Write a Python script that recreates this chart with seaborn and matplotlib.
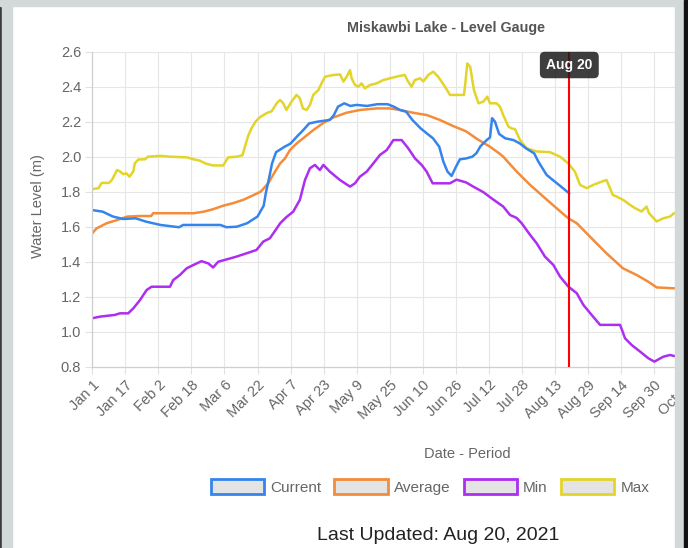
import numpy as np
import matplotlib.pyplot as plt
import seaborn as sns
import pandas as pd
from matplotlib.patches import Patch, Rectangle
from matplotlib.ticker import FormatStrFormatter

# x axis = day of year (Jan 1 = 0), one label every 16 days
tick_days = list(range(0, 289, 16))
tick_labels = ["Jan 1", "Jan 17", "Feb 2", "Feb 18", "Mar 6", "Mar 22", "Apr 7",
               "Apr 23", "May 9", "May 25", "Jun 10", "Jun 26", "Jul 12", "Jul 28",
               "Aug 13", "Aug 29", "Sep 14", "Sep 30", "Oct 16"]
y_ticks = [0.8, 1.0, 1.2, 1.4, 1.6, 1.8, 2.0, 2.2, 2.4, 2.6]

# (day, level) points
current_pts = [(0, 1.695), (5, 1.686), (10, 1.658), (15, 1.644), (21, 1.648), (26, 1.629),
               (33, 1.61), (42, 1.597), (44, 1.61), (49, 1.61), (62, 1.61), (65, 1.597),
               (70, 1.6), (75, 1.62), (80, 1.658), (83, 1.72), (84, 1.79), (86, 1.9),
               (87, 1.96), (89, 2.026), (93, 2.056), (96, 2.075), (99, 2.114), (102, 2.15),
               (105, 2.19), (109, 2.2), (115, 2.21), (117, 2.238), (119, 2.286), (122, 2.305),
               (125, 2.29), (128, 2.296), (133, 2.29), (138, 2.3), (143, 2.3), (146, 2.286),
               (149, 2.267), (152, 2.257), (155, 2.21), (159, 2.162), (162, 2.133), (165, 2.105),
               (168, 2.057), (170, 1.972), (172, 1.915), (174, 1.89), (176, 1.94), (178, 1.985),
               (181, 1.99), (184, 2.0), (186, 2.02), (188, 2.06), (191, 2.095), (192.6, 2.11),
               (193.6, 2.22), (195, 2.2), (197, 2.13), (200, 2.105), (204, 2.095), (207, 2.076),
               (210, 2.048), (214, 2.019), (216, 1.972), (218, 1.934), (220, 1.896), (223, 1.867),
               (227, 1.829), (231, 1.79)]

average_pts = [(0, 1.562), (2, 1.59), (7, 1.62), (12, 1.638), (17, 1.658), (23, 1.661),
               (28.5, 1.661), (29.5, 1.677), (49, 1.677), (54, 1.686), (58.5, 1.7), (63.4, 1.72),
               (68, 1.734), (73, 1.753), (78, 1.78), (81.5, 1.8), (85.2, 1.848), (88.5, 1.915),
               (91, 1.962), (93.3, 1.99), (95.7, 2.038), (99, 2.076), (103, 2.114), (107, 2.152),
               (112, 2.194), (116.7, 2.224), (123, 2.251), (129.6, 2.267), (137.7, 2.276),
               (144, 2.276), (149, 2.267), (155.4, 2.251), (162, 2.238), (168.3, 2.21),
               (174.8, 2.175), (181, 2.145), (186.5, 2.1), (192.6, 2.057), (197.5, 2.015),
               (199, 2.0), (205.5, 1.915), (212, 1.839), (218.4, 1.772), (224.8, 1.706),
               (230.5, 1.648), (234.6, 1.62), (241, 1.543), (249, 1.448), (257, 1.362),
               (263.6, 1.324), (269.2, 1.286), (273.3, 1.253), (281.7, 1.248), (290, 1.248)]

min_pts = [(0, 1.077), (3.7, 1.086), (11, 1.096), (13.4, 1.105), (17.4, 1.105), (19.9, 1.134),
           (23.1, 1.181), (26.3, 1.238), (28.7, 1.257), (37.6, 1.257), (39.2, 1.295), (42.4, 1.324),
           (45.7, 1.362), (48.9, 1.381), (52.9, 1.403), (56.2, 1.39), (58.5, 1.367), (61, 1.4),
           (65, 1.413), (69.8, 1.429), (74.7, 1.448), (79.5, 1.467), (82.8, 1.515), (86, 1.534),
           (89.3, 1.59), (91, 1.62), (94, 1.655), (97.3, 1.686), (100.5, 1.753), (103, 1.867),
           (105.4, 1.934), (107.8, 1.953), (110.2, 1.924), (111.9, 1.953), (115, 1.915),
           (119.9, 1.867), (124.8, 1.829), (127.2, 1.848), (129.6, 1.886), (132.9, 1.915),
           (136.1, 1.962), (139.3, 2.01), (142.6, 2.038), (145.8, 2.095), (149.8, 2.095),
           (153, 2.048), (156.3, 1.99), (159.5, 1.953), (161.9, 1.915), (164.8, 1.848),
           (173.2, 1.848), (176.4, 1.869), (181, 1.853), (184.5, 1.829), (189.4, 1.797),
           (194.2, 1.755), (199, 1.715), (202.3, 1.667), (205.5, 1.65), (207.9, 1.62),
           (211.9, 1.555), (215.2, 1.505), (219.2, 1.429), (223.3, 1.381), (226.5, 1.315),
           (230.5, 1.258), (234.6, 1.22), (237.8, 1.153), (241.8, 1.096), (245.9, 1.039),
           (255.6, 1.039), (258, 0.962), (261.2, 0.924), (265.3, 0.886), (269.3, 0.848),
           (272.2, 0.829), (276.5, 0.857), (279.8, 0.867), (281.7, 0.861), (290, 0.87)]

max_pts = [(0, 1.815), (3, 1.82), (4.5, 1.85), (8, 1.85), (9.5, 1.867), (12, 1.924),
           (13.5, 1.915), (15, 1.9), (16.5, 1.905), (18, 1.886), (19.8, 1.915), (20.6, 1.962),
           (22.3, 1.984), (25.5, 1.985), (27, 2.0), (33, 2.005), (38, 2.0), (46, 1.996),
           (49, 1.985), (52, 1.978), (55, 1.96), (58.5, 1.95), (63.4, 1.95), (65.8, 1.996),
           (70, 2.0), (72.7, 2.008), (75.5, 2.12), (77, 2.16), (79, 2.2), (81.2, 2.226),
           (84.4, 2.249), (86.9, 2.26), (89.3, 2.305), (90.9, 2.324), (92.5, 2.305), (94, 2.267),
           (96.5, 2.315), (98.9, 2.353), (100.5, 2.334), (102, 2.276), (103.8, 2.267),
           (105.4, 2.296), (107, 2.353), (109.5, 2.381), (111, 2.419), (112.7, 2.457),
           (116.7, 2.467), (120, 2.47), (121.6, 2.429), (123.2, 2.457), (124.8, 2.495),
           (125.6, 2.448), (127.2, 2.41), (128.8, 2.4), (130.4, 2.419), (132, 2.39),
           (134.5, 2.41), (137.7, 2.419), (140.9, 2.438), (144.2, 2.448), (148.2, 2.46),
           (151.3, 2.467), (152.9, 2.43), (154.6, 2.4), (156.2, 2.438), (158.7, 2.448),
           (160.3, 2.43), (162.7, 2.467), (165.1, 2.486), (167.5, 2.457), (170.8, 2.4),
           (173.2, 2.353), (180, 2.353), (180.8, 2.438), (181.6, 2.533), (183, 2.514),
           (184.8, 2.381), (187, 2.305), (189.4, 2.315), (191.3, 2.343), (192.6, 2.305),
           (195.8, 2.305), (197.4, 2.286), (199, 2.238), (201.5, 2.172), (203, 2.162),
           (204.7, 2.157), (207.1, 2.096), (210.3, 2.048), (215.2, 2.03), (221.6, 2.026),
           (226.5, 2.0), (230.5, 1.962), (233.7, 1.915), (236.2, 1.839), (239.4, 1.82),
           (242.6, 1.839), (246.8, 1.858), (249, 1.867), (250.7, 1.82), (252, 1.782),
           (253.9, 1.772), (257.1, 1.753), (260.4, 1.725), (262.8, 1.706), (266, 1.687),
           (268.4, 1.715), (269.6, 1.677), (273.3, 1.63), (276.5, 1.648), (279.8, 1.658),
           (281.7, 1.677), (290, 1.69)]

series_names = ["Current", "Average", "Min", "Max"]
series_pts = [current_pts, average_pts, min_pts, max_pts]
colors = ["#3584ee", "#f48c3a", "#ad2ef0", "#e3d42a"]
update_day = 231  # Aug 20

frames = []
for name, pts in zip(series_names, series_pts):
    d = pd.DataFrame(pts, columns=["Day", "Level"])
    d["Series"] = name
    frames.append(d)
df = pd.concat(frames, ignore_index=True)

sns.set_style('whitegrid')
plt.rcParams['font.family'] = ['Liberation Sans', 'DejaVu Sans']

W, H = 688, 548
x0, y_top, y_bot = 92.3, 51.7, 366.7
px_day = 2.065
x_max = 290

fig = plt.figure(figsize=(W / 100, H / 100), dpi=100)
ax = fig.add_axes([x0 / W, 1 - y_bot / H, x_max * px_day / W, (y_bot - y_top) / H])

# draw in reverse so Current sits on top, like the original
for name, c in reversed(list(zip(series_names, colors))):
    sns.lineplot(data=df[df["Series"] == name], x="Day", y="Level", color=c,
                 linewidth=1.8, estimator=None, sort=False, ax=ax)

ax.axvline(update_day, color="#ff0000", linewidth=1.5, zorder=4)
ax.text(update_day, 2.524, "Aug 20", ha="center", va="center", color="white",
        fontsize=10, fontweight="bold", zorder=6, clip_on=False,
        bbox=dict(boxstyle="round,pad=0.45,rounding_size=0.35", fc="#1c1c1c", ec="none", alpha=0.85))

ax.set_xlim(0, x_max)
ax.set_ylim(0.8, 2.6)
ax.set_xticks(tick_days)
ax.set_xticklabels(tick_labels, rotation=45, ha="right", rotation_mode="anchor")
ax.set_yticks(y_ticks)
ax.yaxis.set_major_formatter(FormatStrFormatter("%.1f"))
ax.grid(color="#e6e6e6", linewidth=0.8)
ax.tick_params(axis="both", bottom=True, left=True, length=5, width=0.8, color="#e0e0e0",
               labelcolor="#666666", labelsize=10.5, pad=3)
for s in ["top", "right"]:
    ax.spines[s].set_visible(False)
for s in ["left", "bottom"]:
    ax.spines[s].set_color("#cfcfcf")
    ax.spines[s].set_linewidth(0.9)

ax_w = x_max * px_day
ax.set_xlabel("Date - Period", fontsize=10.5, color="#666666")
ax.xaxis.set_label_coords((467 - x0) / ax_w, -(447 - y_bot) / (y_bot - y_top))
ax.set_ylabel("Water Level (m)", fontsize=10.5, color="#666666")
ax.yaxis.set_label_coords((38 - x0) / ax_w, (y_bot - 206) / (y_bot - y_top))
ax.yaxis.label.set_va("center")

fig.text(446 / W, 1 - 28 / H, "Miskawbi Lake - Level Gauge", ha="center", va="center",
         fontsize=10.3, fontweight="bold", color="#555555")

handles = [Patch(facecolor="#e4e4e4", edgecolor=c, linewidth=2) for c in colors]
fig.legend(handles, series_names, loc="center", bbox_to_anchor=(430 / W, 1 - 487 / H),
           ncol=4, frameon=False, handlelength=3.5, handleheight=1.05, handletextpad=0.4,
           columnspacing=0.85, fontsize=11, labelcolor="#666666")

fig.text(438 / W, 1 - 535 / H, "Last Updated: Aug 20, 2021", ha="center", va="center",
         fontsize=14, color="#222222")

# screenshot frame
gray = "#d3d9d9"
fig.patches.extend([
    Rectangle((0, 0), 2 / W, 1, color="#3a3a3a", transform=fig.transFigure, zorder=20),
    Rectangle((2 / W, 0), 10 / W, 1, color=gray, transform=fig.transFigure, zorder=20),
    Rectangle((0, 1 - 6 / H), 1, 6 / H, color=gray, transform=fig.transFigure, zorder=20),
    Rectangle((675 / W, 0), 9 / W, 1, color=gray, transform=fig.transFigure, zorder=20),
    Rectangle((684 / W, 0), 4 / W, 1, color="#111111", transform=fig.transFigure, zorder=20),
])

fig.savefig("out.png", dpi=100)
